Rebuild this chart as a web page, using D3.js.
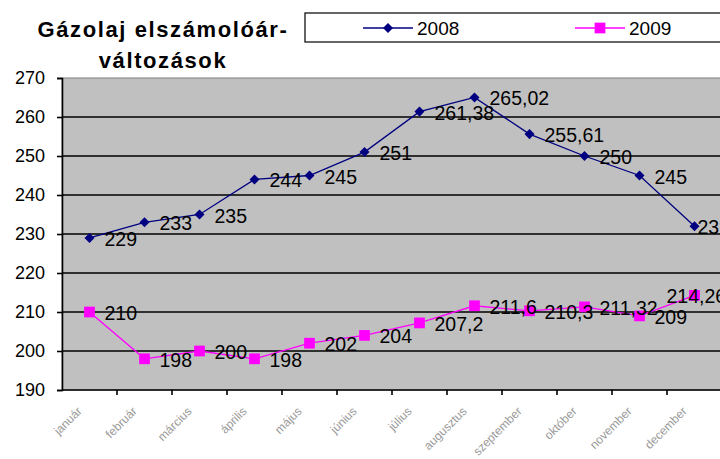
<!DOCTYPE html>
<html>
<head>
<meta charset="utf-8">
<script src="https://cdn.jsdelivr.net/npm/d3@7"></script>
<style>
  body { margin: 0; background: #fff; }
  svg { display: block; font-family: "Liberation Sans", Arial, sans-serif; }
</style>
</head>
<body>
<svg id="chart" width="720" height="459"></svg>
<script>
const months = ['január', 'február', 'március', 'április', 'május', 'június',
  'július', 'augusztus', 'szeptember', 'október', 'november', 'december'];
const values2008 = [229, 233, 235, 244, 245, 251, 261.38, 265.02, 255.61, 250, 245, 232];
const values2009 = [210, 198, 200, 198, 202, 204, 207.2, 211.6, 210.3, 211.32, 209, 214.26];
const yTicks = [190, 200, 210, 220, 230, 240, 250, 260, 270];
const titleLines = ['Gázolaj elszámolóár-', 'változások'];

const svg = d3.select('#chart');
const plotLeft = 62, plotRight = 722, plotTop = 78, plotBottom = 390;

const x = d3.scaleBand().domain(months).range([plotLeft, plotRight]).padding(0);
const y = d3.scaleLinear().domain([190, 270]).range([plotBottom, plotTop]);

const fmt = v => String(v).replace('.', ',');

// plot area
svg.append('rect')
  .attr('x', plotLeft).attr('y', plotTop)
  .attr('width', plotRight - plotLeft).attr('height', plotBottom - plotTop)
  .attr('fill', '#c0c0c0')
  .attr('stroke', '#808080').attr('stroke-width', 1);

// grid lines
svg.append('g')
  .selectAll('line')
  .data(yTicks.filter(d => d > 190 && d < 270))
  .join('line')
  .attr('x1', plotLeft).attr('x2', plotRight)
  .attr('y1', d => y(d)).attr('y2', d => y(d))
  .attr('stroke', '#000').attr('stroke-width', 1.6);

// y axis
const yAxis = svg.append('g')
  .attr('transform', `translate(${plotLeft},0)`)
  .call(d3.axisLeft(y).tickValues(yTicks).tickSize(5).tickPadding(12));
yAxis.select('.domain').attr('stroke', '#000').attr('stroke-width', 1.6);
yAxis.selectAll('.tick line').attr('stroke', '#000').attr('stroke-width', 1.6);
yAxis.selectAll('.tick text')
  .attr('font-size', 18).attr('fill', '#000')
  .attr('font-family', '"Liberation Sans", Arial, sans-serif');

// x axis (ticks at band boundaries)
const xAxis = svg.append('g').attr('transform', `translate(0,${plotBottom})`);
xAxis.append('line')
  .attr('x1', plotLeft).attr('x2', plotRight).attr('y1', 0).attr('y2', 0)
  .attr('stroke', '#000').attr('stroke-width', 1.6);
xAxis.selectAll('line.tk')
  .data(months.slice(1))
  .join('line')
  .attr('class', 'tk')
  .attr('x1', d => x(d)).attr('x2', d => x(d))
  .attr('y1', 0).attr('y2', 5)
  .attr('stroke', '#000').attr('stroke-width', 1.6);
xAxis.selectAll('text')
  .data(months)
  .join('text')
  .attr('transform', d => `translate(${x(d) + x.bandwidth() / 2 - 7},22) rotate(-45)`)
  .attr('text-anchor', 'end')
  .attr('font-size', 12)
  .attr('fill', '#999')
  .text(d => d);

// series (lastDx: the december label is pulled left to stay near the edge)
const series = [
  { name: '2008', values: values2008, color: '#000080', shape: d3.symbolDiamond2, size: 64, lastDx: 3 },
  { name: '2009', values: values2009, color: '#ff00ff', shape: d3.symbolSquare, size: 115, lastDx: -28 }
];

const cx = i => x(months[i]) + x.bandwidth() / 2;

const line = d3.line()
  .x((d, i) => cx(i))
  .y(d => y(d));

series.forEach(s => {
  const g = svg.append('g');
  g.append('path')
    .attr('d', line(s.values))
    .attr('fill', 'none')
    .attr('stroke', s.color)
    .attr('stroke-width', 1.3);
  g.selectAll('path.pt')
    .data(s.values)
    .join('path')
    .attr('class', 'pt')
    .attr('d', d3.symbol().type(s.shape).size(s.size))
    .attr('transform', (d, i) => `translate(${cx(i)},${y(d)})`)
    .attr('fill', s.color);
  g.selectAll('text')
    .data(s.values)
    .join('text')
    .attr('x', (d, i) => cx(i) + (i === s.values.length - 1 ? s.lastDx : 15))
    .attr('y', d => y(d) + 8)
    .attr('font-size', 19.5)
    .attr('fill', '#000')
    .text(d => fmt(d));
});

// title
svg.append('g')
  .selectAll('text')
  .data(titleLines)
  .join('text')
  .attr('x', 163)
  .attr('y', (d, i) => 37 + i * 31)
  .attr('text-anchor', 'middle')
  .attr('font-size', 22)
  .attr('font-weight', 'bold')
  .attr('letter-spacing', 1.6)
  .attr('fill', '#000')
  .text(d => d);

// legend
const legend = svg.append('g');
legend.append('rect')
  .attr('x', 305).attr('y', 13)
  .attr('width', 430).attr('height', 29)
  .attr('fill', '#fff')
  .attr('stroke', '#000').attr('stroke-width', 1.2);
const legendX = [363, 575];
series.forEach((s, i) => {
  const lx = legendX[i];
  legend.append('line')
    .attr('x1', lx).attr('x2', lx + 50)
    .attr('y1', 28).attr('y2', 28)
    .attr('stroke', s.color).attr('stroke-width', 1.3);
  legend.append('path')
    .attr('d', d3.symbol().type(s.shape).size(s.size)())
    .attr('transform', `translate(${lx + 25},28)`)
    .attr('fill', s.color);
  legend.append('text')
    .attr('x', lx + 54).attr('y', 35)
    .attr('font-size', 19)
    .attr('fill', '#000')
    .text(s.name);
});
</script>
</body>
</html>
